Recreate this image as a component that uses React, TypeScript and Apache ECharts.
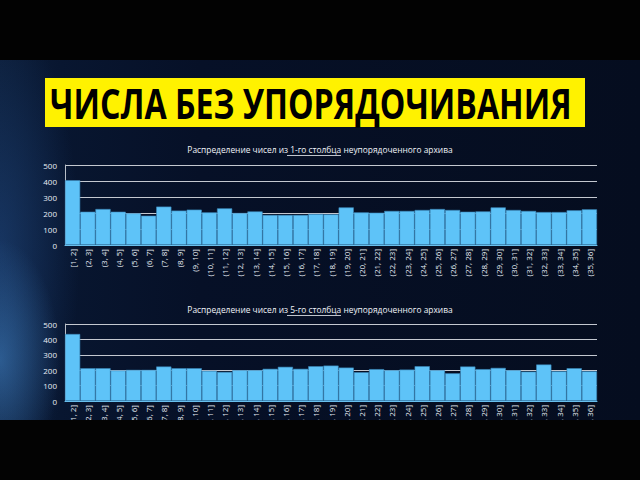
import React, { useEffect, useRef } from "react";
import * as echarts from "echarts";

const categories = [
  "[1, 2]", "(2, 3]", "(3, 4]", "(4, 5]", "(5, 6]", "(6, 7]", "(7, 8]", "(8, 9]", "(9, 10]",
  "(10, 11]", "(11, 12]", "(12, 13]", "(13, 14]", "(14, 15]", "(15, 16]", "(16, 17]", "(17, 18]",
  "(18, 19]", "(19, 20]", "(20, 21]", "(21, 22]", "(22, 23]", "(23, 24]", "(24, 25]", "(25, 26]",
  "(26, 27]", "(27, 28]", "(28, 29]", "(29, 30]", "(30, 31]", "(31, 32]", "(32, 33]", "(33, 34]",
  "(34, 35]", "(35, 36]",
];

const column1 = [
  405, 208, 225, 208, 198, 183, 240, 215, 221, 204, 229, 200, 210, 188, 188, 188, 194, 192, 235,
  204, 202, 213, 213, 219, 225, 219, 208, 210, 235, 219, 213, 206, 206, 217, 223,
];

const column5 = [
  435, 213, 213, 198, 202, 202, 224, 213, 213, 196, 189, 200, 200, 209, 222, 209, 226, 230, 217,
  187, 207, 200, 204, 226, 200, 180, 224, 207, 215, 200, 191, 237, 193, 213, 193,
];

const yTicks = [0, 100, 200, 300, 400, 500];

const mainTitle = "ЧИСЛА БЕЗ УПОРЯДОЧИВАНИЯ";
const title1 = ["Распределение чисел из ", "1-го столбца", " неупорядоченного архива"];
const title2 = ["Распределение чисел из ", "5-го столбца", " неупорядоченного архива"];

const FONT = "'Open Sans', 'Noto Sans', sans-serif";

export default function App() {
  const ref = useRef<HTMLDivElement>(null);

  useEffect(() => {
    if (!ref.current) return;
    const chart = echarts.init(ref.current, null, { renderer: "svg" });

    const xAxisBase = (gridIndex: number) => ({
      type: "category" as const,
      gridIndex,
      data: categories,
      axisLine: { show: true, lineStyle: { color: "#6fc7f5", width: 1 } },
      axisTick: { show: false },
      axisLabel: {
        interval: 0,
        rotate: 90,
        color: "#e8eef6",
        fontSize: 8,
        fontFamily: FONT,
        margin: 4,
      },
    });

    const yAxisBase = (gridIndex: number) => ({
      type: "value" as const,
      gridIndex,
      min: yTicks[0],
      max: yTicks[yTicks.length - 1],
      interval: 100,
      axisLine: { show: true, lineStyle: { color: "#b8bec8", width: 1 } },
      axisTick: { show: false },
      axisLabel: { color: "#e8eef6", fontSize: 8, fontFamily: FONT, margin: 8 },
      splitLine: { show: true, lineStyle: { color: "#c4c8d0", width: 1 } },
    });

    const barSeries = (idx: number, data: number[]) => ({
      type: "bar" as const,
      xAxisIndex: idx,
      yAxisIndex: idx,
      data,
      barCategoryGap: "0%",
      itemStyle: { color: "#5ec3f8", borderColor: "#3b86b8", borderWidth: 0.6 },
    });

    const titleText = (parts: string[], y: number) => ({
      type: "text" as const,
      left: "center",
      top: y,
      style: {
        text: `{a|${parts[0]}}{u|${parts[1]}}{a|${parts[2]}}`,
        rich: {
          a: { fill: "#f0f3f8", fontSize: 8.4, fontFamily: FONT },
          u: { fill: "#f0f3f8", fontSize: 8.4, fontFamily: FONT },
        },
      },
    });

    chart.setOption({
      animation: false,
      grid: [
        { left: 65, top: 165, width: 532, height: 80, containLabel: false, outerBoundsMode: "none" },
        { left: 65, top: 324, width: 532, height: 77, containLabel: false, outerBoundsMode: "none" },
      ],
      xAxis: [xAxisBase(0), xAxisBase(1)],
      yAxis: [yAxisBase(0), yAxisBase(1)],
      series: [barSeries(0, column1), barSeries(1, column5)],
      graphic: [
        {
          type: "rect",
          shape: { x: 45, y: 78, width: 540, height: 49 },
          style: { fill: "#fff200" },
        },
        {
          type: "text",
          x: 50,
          y: 103,
          scaleX: 0.785,
          style: {
            text: mainTitle,
            fill: "#000000",
            fontSize: 41,
            fontWeight: "bold",
            fontFamily: FONT,
            verticalAlign: "middle",
          },
        },
        titleText(title1, 145),
        titleText(title2, 305),
        {
          type: "line",
          shape: { x1: 287, y1: 155.5, x2: 341, y2: 155.5 },
          style: { stroke: "#f0f3f8", lineWidth: 0.8 },
        },
        {
          type: "line",
          shape: { x1: 287, y1: 315.5, x2: 341, y2: 315.5 },
          style: { stroke: "#f0f3f8", lineWidth: 0.8 },
        },
      ],
    });

    return () => chart.dispose();
  }, []);

  return (
    <div
      style={{
        position: "fixed",
        left: 0,
        top: 0,
        width: 640,
        height: 480,
        background: "#030303",
        overflow: "hidden",
      }}
    >
      <div
        style={{
          position: "absolute",
          left: 0,
          top: 0,
          width: 640,
          height: 420,
          background: [
            "linear-gradient(to bottom, #020202 0px, #020202 60px, transparent 60px)",
            "radial-gradient(ellipse 60px 120px at 0px 360px, rgba(70,140,210,0.5), rgba(70,140,210,0) 100%)",
            "radial-gradient(ellipse 80px 240px at 0px 250px, rgba(40,90,160,0.4), rgba(40,90,160,0) 100%)",
            "linear-gradient(to right, #0c1d38 0px, #081630 60px, #061027 200px, #050d1f 640px)",
          ].join(", "),
        }}
      >
        <div ref={ref} style={{ width: 640, height: 420 }} />
      </div>
    </div>
  );
}
